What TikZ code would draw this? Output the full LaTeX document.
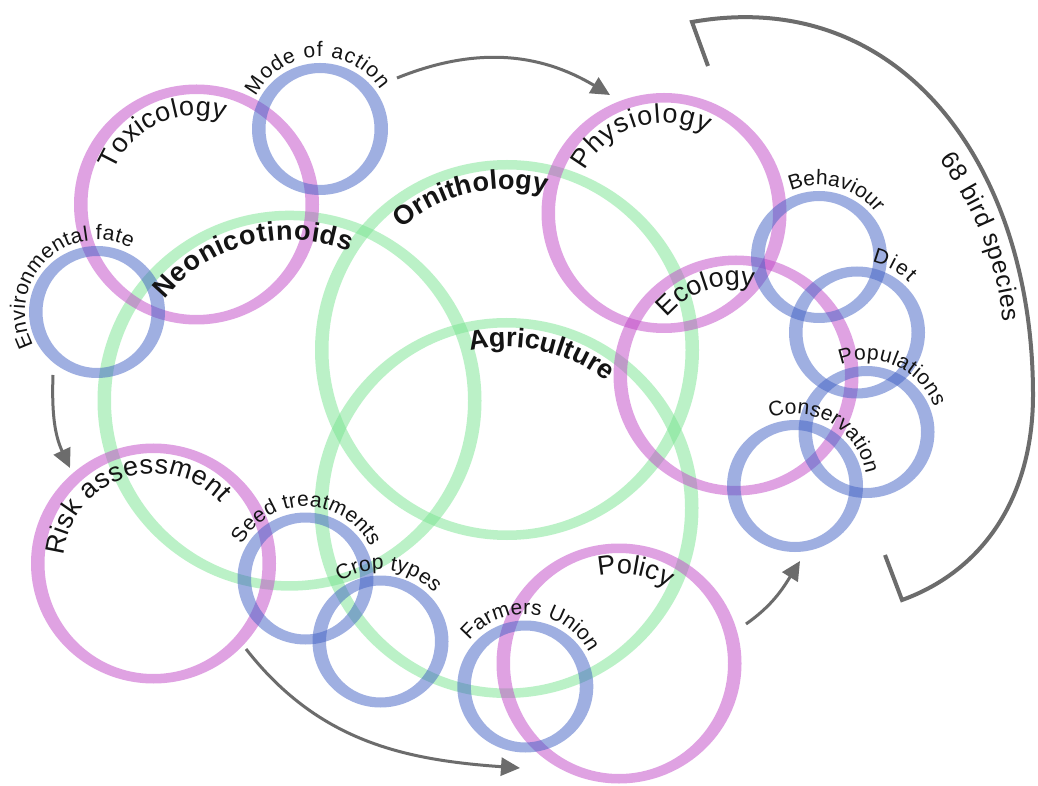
\documentclass[tikz,border=0pt]{standalone}
\usepackage{fontspec}
\setmainfont{Liberation Sans}
\usetikzlibrary{decorations.text,arrows.meta}
\definecolor{pinkc}{RGB}{193,71,199}
\definecolor{bluec}{RGB}{65,97,197}
\definecolor{greenc}{RGB}{121,229,145}
\definecolor{grayc}{RGB}{108,108,108}
\definecolor{txtc}{RGB}{20,20,20}
\newcommand\bigf{\fontsize{27pt}{30pt}\selectfont}
\newcommand\boldf{\fontsize{27pt}{30pt}\selectfont\bfseries}
\newcommand\smallf{\fontsize{21pt}{24pt}\selectfont}
\newcommand\birdf{\fontsize{25pt}{28pt}\selectfont}
% rings: centre x, centre y (y up)
\newcommand\pinkring[2]{\fill[pinkc,fill opacity=0.5,even odd rule] (#1,#2) ellipse [x radius=122.5pt,y radius=120pt] (#1,#2) ellipse [x radius=109pt,y radius=110.5pt];}
\newcommand\bluering[2]{\fill[bluec,fill opacity=0.5,even odd rule] (#1,#2) ellipse [x radius=68pt,y radius=66pt] (#1,#2) ellipse [x radius=54.5pt,y radius=56pt];}
\newcommand\greenring[2]{\fill[greenc,fill opacity=0.5,even odd rule] (#1,#2) ellipse [x radius=192pt,y radius=190pt] (#1,#2) ellipse [x radius=178.5pt,y radius=180.5pt];}
% text on an arc: cx, cy, r, start angle, end angle, font, text
\newcommand\arclabel[7]{\path[decorate,decoration={text along path,text color=txtc,text={|#6|#7},text align={fit to path}}] ({#1+#3*cos(#4)},{#2+#3*sin(#4)}) arc[start angle=#4,end angle=#5,radius=#3pt];}
\tikzset{flowarrow/.style={draw=grayc,line width=3pt,-{Triangle[length=19pt,width=18pt]}},
  bracketline/.style={draw=grayc,line width=4pt,line join=miter}}
\begin{document}
\begin{tikzpicture}[x=1pt,y=1pt]
\fill[white] (0,0) rectangle (1038,785);
\useasboundingbox (0,0) rectangle (1038,785);
% green rings
\greenring{289.5}{384.3}
\greenring{507}{435}
\greenring{506.5}{277}
% pink rings
\pinkring{196.5}{580.5}
\pinkring{664}{572}
\pinkring{736}{409.5}
\pinkring{153.5}{221.5}
\pinkring{619}{121.5}
% blue rings
\bluering{320}{656}
\bluering{97}{473}
\bluering{819}{528}
\bluering{857}{452.5}
\bluering{866.5}{353}
\bluering{795}{299}
\bluering{305.5}{206.5}
\bluering{380.5}{143.5}
\bluering{525.3}{98.5}
% arrows
\coordinate (a1s) at (397,707); \coordinate (a1e) at (610,690);
\coordinate (a2s) at (53,410);  \coordinate (a2e) at (70,317);
\coordinate (a3s) at (246,136); \coordinate (a3e) at (520,17);
\coordinate (a4s) at (746,161); \coordinate (a4e) at (800,224);
\draw[flowarrow] (a1s) to[out=22,in=149] (a1e);
\draw[flowarrow] (a2s) to[out=-92,in=115] (a2e);
\draw[flowarrow] (a3s) to[out=-52,in=176] (a3e);
\draw[flowarrow] (a4s) to[out=35,in=-122] (a4e);
% bracket
\coordinate (b1) at (708,719); \coordinate (bc1) at (692,763);
\coordinate (bm) at (1033,390); \coordinate (bc2) at (902,185);
\coordinate (b2) at (885,230);
\draw[bracketline] (b1) -- (bc1) .. controls (900,800) and (1033,620) .. (bm)
  .. controls (1033,290) and (985,215) .. (bc2) -- (b2);
% labels
\arclabel{196.5}{580.5}{89}{158}{72}{\bigf}{Toxicology}
\arclabel{664}{572}{90}{152}{62}{\bigf}{Physiology}
\arclabel{736}{409.5}{90}{140}{80}{\bigf}{Ecology}
\arclabel{153.5}{221.5}{90}{175}{42}{\bigf}{Risk assessment}
\arclabel{619}{121.5}{90}{103}{58}{\bigf}{Policy}
\arclabel{320}{656}{72}{153}{33}{\smallf}{Mode of action}
\arclabel{97}{473}{72}{208}{62}{\smallf}{Environmental fate}
\arclabel{819}{528}{72}{113}{38}{\smallf}{Behaviour}
\arclabel{857}{452.5}{72}{78}{44}{\smallf}{Diet}
\arclabel{866.5}{353}{72}{111}{20}{\smallf}{Populations}
\arclabel{795}{299}{72}{110}{10}{\smallf}{Conservation}
\arclabel{305.5}{206.5}{72}{152}{26}{\smallf}{Seed treatments}
\arclabel{380.5}{143.5}{72}{124}{42}{\smallf}{Crop types}
\arclabel{525.3}{98.5}{72}{141}{28}{\smallf}{Farmers Union}
\arclabel{289.5}{384.3}{161}{141}{68}{\boldf}{Neonicotinoids}
\arclabel{507}{435}{161}{131}{76}{\boldf}{Ornithology}
\arclabel{506.5}{277}{161}{103}{52}{\boldf}{Agriculture}
\arclabel{678}{428.6}{327}{37}{6}{\birdf}{68 bird species}
\end{tikzpicture}
\end{document}
